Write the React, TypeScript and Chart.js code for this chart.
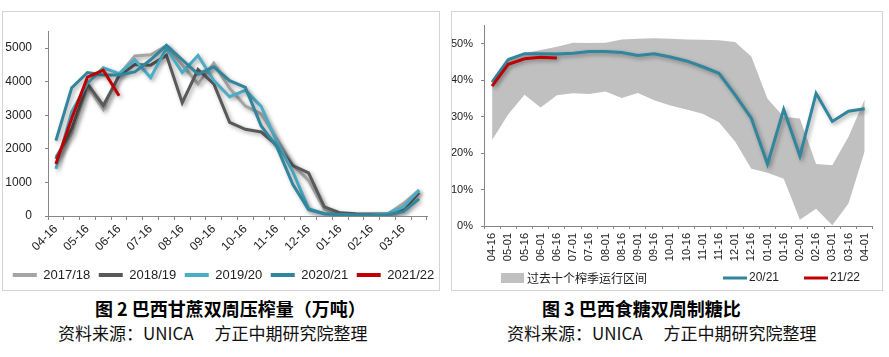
import React, { useEffect, useRef } from 'react';
import { Chart, registerables } from 'chart.js';

Chart.register(...registerables);

// ---------- data ----------
const categories = ['04-16', '05-01', '05-16', '06-01', '06-16', '07-01', '07-16', '08-01', '08-16', '09-01', '09-16', '10-01', '10-16', '11-01', '11-16', '12-01', '12-16', '01-01', '01-16', '02-01', '02-16', '03-01', '03-16', '04-01'];

// 巴西甘蔗双周压榨量（万吨）
const seasonLabels = ['2017/18', '2018/19', '2019/20', '2020/21', '2021/22'];
const cane1718 = [1760, 2450, 3850, 3180, 4200, 4760, 4800, 5070, 4500, 3930, 4550, 3800, 3270, 3040, 2290, 1520, 1060, 200, 50, 30, 30, 50, 370, 770];
const cane1819 = [1700, 2600, 3930, 3290, 4170, 4510, 4490, 4780, 3370, 4360, 3930, 2790, 2580, 2500, 2100, 1500, 1280, 270, 95, 70, 60, 70, 170, 700];
const cane1920 = [1400, 3100, 3950, 4410, 4240, 4650, 4120, 4990, 4270, 4780, 4030, 3550, 3740, 3260, 2200, 1330, 220, 70, 30, 20, 30, 60, 270, 770];
const cane2021 = [2245, 3815, 4270, 4200, 4200, 4290, 4650, 5080, 4650, 4220, 4440, 4030, 3830, 2680, 2050, 945, 190, 70, 50, 30, 30, 40, 130, 510];
const cane2122 = [1550, 2900, 4130, 4340, 3580, null, null, null, null, null, null, null, null, null, null, null, null, null, null, null, null, null, null, null];
const caneYTicks = [0, 1000, 2000, 3000, 4000, 5000];

// 巴西食糖双周制糖比（%）
const ratioLabels = ['过去十个榨季运行区间', '20/21', '21/22'];
const bandUpper = [40.0, 45.9, 47.4, 48.3, 49.2, 50.3, 50.2, 50.3, 51.2, 51.4, 51.5, 51.4, 51.2, 51.1, 51.0, 50.5, 46.5, 34.9, 30.0, 29.5, 17.0, 16.7, 24.5, 34.7];
const bandLower = [23.6, 30.7, 36.0, 32.5, 35.9, 36.4, 36.2, 36.9, 35.1, 36.5, 34.5, 33.1, 32.0, 30.8, 28.5, 23.2, 15.7, 14.6, 13.0, 1.7, 4.7, 0.2, 6.2, 20.5];
const ratio2021 = [39.5, 45.7, 47.3, 47.3, 47.2, 47.4, 47.9, 47.9, 47.6, 46.8, 47.3, 46.4, 45.3, 43.7, 41.9, 36.0, 29.6, 17.0, 32.0, 19.2, 36.4, 28.7, 31.5, 32.2];
const ratio2122 = [38.4, 44.4, 45.9, 46.3, 46.1, null, null, null, null, null, null, null, null, null, null, null, null, null, null, null, null, null, null, null];
const ratioYTicks = [0, 10, 20, 30, 40, 50];

// ---------- styles ----------
const AXIS = '#868686';
const TXT = '#222';
const LATIN = 'Liberation Sans';
const CJK = '"Noto Sans CJK SC"';
const BAND = '#c0c0c0';
const TEAL = '#31859c';
const RED = '#c00000';

const shadowPlugin = {
  id: 'lineShadow',
  beforeDatasetDraw(chart: any, args: any) {
    const ds = chart.data.datasets[args.index];
    if (!ds.shadow) return;
    const ctx = chart.ctx;
    ctx.save();
    ctx.shadowColor = 'rgba(0,0,0,0.35)';
    ctx.shadowBlur = 4;
    ctx.shadowOffsetX = 2;
    ctx.shadowOffsetY = 2;
  },
  afterDatasetDraw(chart: any, args: any) {
    const ds = chart.data.datasets[args.index];
    if (!ds.shadow) return;
    chart.ctx.restore();
  },
};

const rightLegendPlugin = {
  id: 'rightLegend',
  afterDraw(chart: any) {
    const ctx = chart.ctx;
    const cy = 267;
    ctx.save();
    ctx.textBaseline = 'middle';
    ctx.textAlign = 'left';
    // band
    ctx.fillStyle = BAND;
    ctx.fillRect(49, cy - 5, 23, 10);
    ctx.fillStyle = TXT;
    ctx.font = `12px ${CJK}`;
    ctx.fillText(ratioLabels[0], 75, cy);
    // 20/21
    ctx.fillStyle = TEAL;
    ctx.fillRect(271, cy - 1.5, 24, 3);
    ctx.fillStyle = TXT;
    ctx.font = `12px ${LATIN}`;
    ctx.fillText(ratioLabels[1], 297, cy);
    // 21/22
    ctx.fillStyle = RED;
    ctx.fillRect(352, cy - 1.5, 24, 3);
    ctx.fillStyle = TXT;
    ctx.fillText(ratioLabels[2], 378, cy);
    ctx.restore();
  },
};

export default function App() {
  const leftRef = useRef<HTMLCanvasElement | null>(null);
  const rightRef = useRef<HTMLCanvasElement | null>(null);

  useEffect(() => {
    const leftColors = ['#a5a5a5', '#595959', '#4bacc6', TEAL, RED];
    const leftData = [cane1718, cane1819, cane1920, cane2021, cane2122];
    const left = new Chart(leftRef.current as HTMLCanvasElement, {
      type: 'line',
      data: {
        labels: categories,
        datasets: leftData.map((d, i) => ({
          label: seasonLabels[i],
          data: d,
          borderColor: leftColors[i],
          backgroundColor: leftColors[i],
          borderWidth: 3,
          pointRadius: 0,
          tension: 0,
          fill: false,
          order: 5 - i,
          yAxisID: 'y',
          shadow: true,
        })) as any,
      },
      options: {
        animation: false,
        responsive: false,
        devicePixelRatio: 1,
        layout: { padding: { left: 0, right: 0, top: 14, bottom: 9.5 } },
        plugins: {
          legend: {
            position: 'bottom',
            labels: {
              boxWidth: 24,
              boxHeight: 4,
              padding: 8.5,
              color: TXT,
              font: { family: LATIN, size: 13 },
              generateLabels: (chart: any) =>
                chart.data.datasets.map((ds: any, i: number) => ({
                  text: ds.label,
                  fillStyle: ds.borderColor,
                  strokeStyle: ds.borderColor,
                  lineWidth: 0,
                  hidden: false,
                  datasetIndex: i,
                  fontColor: TXT,
                })),
            },
          },
          tooltip: { enabled: false },
        },
        scales: {
          x: {
            type: 'category',
            offset: true,
            grid: { display: true, drawOnChartArea: false, drawTicks: true, tickLength: 4, offset: true, color: AXIS },
            border: { display: true, color: AXIS },
            ticks: {
              autoSkip: false,
              maxRotation: 45,
              minRotation: 45,
              padding: 2,
              color: TXT,
              font: { family: LATIN, size: 12 },
              callback: (_v: any, i: number) => (i % 2 === 0 ? categories[i] : ''),
            },
            afterFit: (s: any) => { s.height = 44; },
          },
          y: {
            type: 'linear',
            min: 0,
            max: 5500,
            grid: { display: true, drawOnChartArea: false, drawTicks: true, tickLength: 3, color: AXIS },
            border: { display: true, color: AXIS },
            ticks: { padding: 13, color: TXT, font: { family: LATIN, size: 12 }, callback: (v: any) => String(v) },
            afterBuildTicks: (s: any) => { s.ticks = caneYTicks.map((v) => ({ value: v })); },
            afterFit: (s: any) => { s.width = 48; },
          },
          yR: {
            type: 'linear',
            position: 'right',
            display: true,
            grid: { display: false },
            border: { display: false },
            ticks: { display: false },
            afterFit: (s: any) => { s.width = 20; },
          },
        },
      } as any,
      plugins: [shadowPlugin],
    });

    const right = new Chart(rightRef.current as HTMLCanvasElement, {
      type: 'line',
      data: {
        labels: categories,
        datasets: [
          { label: ratioLabels[1], data: ratio2021, borderColor: TEAL, backgroundColor: TEAL, borderWidth: 3, pointRadius: 0, tension: 0, fill: false, order: 2, shadow: true },
          { label: ratioLabels[2], data: ratio2122, borderColor: RED, backgroundColor: RED, borderWidth: 3, pointRadius: 0, tension: 0, fill: false, order: 1, shadow: true },
          { label: 'lower', data: bandLower, borderWidth: 0, borderColor: 'rgba(0,0,0,0)', pointRadius: 0, tension: 0, fill: false, order: 4 },
          { label: ratioLabels[0], data: bandUpper, borderWidth: 0, borderColor: 'rgba(0,0,0,0)', backgroundColor: BAND, pointRadius: 0, tension: 0, fill: '-1', order: 3 },
        ] as any,
      },
      options: {
        animation: false,
        responsive: false,
        devicePixelRatio: 1,
        layout: { padding: { left: 0, right: 5, top: 7, bottom: 0 } },
        plugins: {
          legend: { display: false },
          tooltip: { enabled: false },
        },
        scales: {
          x: {
            type: 'category',
            offset: true,
            grid: { display: true, drawOnChartArea: false, drawTicks: true, tickLength: 3, offset: true, color: AXIS },
            border: { display: true, color: AXIS },
            ticks: {
              autoSkip: false,
              maxRotation: 90,
              minRotation: 90,
              padding: 4,
              color: TXT,
              font: { family: LATIN, size: 11 },
            },
            afterFit: (s: any) => { s.height = 75; },
          },
          y: {
            type: 'linear',
            min: 0,
            max: 55,
            grid: { display: true, drawOnChartArea: false, drawTicks: true, tickLength: 3, color: AXIS },
            border: { display: true, color: AXIS },
            ticks: { padding: 8, color: TXT, font: { family: LATIN, size: 11 }, callback: (v: any) => `${v}%` },
            afterBuildTicks: (s: any) => { s.ticks = ratioYTicks.map((v) => ({ value: v })); },
            afterFit: (s: any) => { s.width = 32; },
          },
        },
      } as any,
      plugins: [shadowPlugin, rightLegendPlugin],
    });

    return () => {
      left.destroy();
      right.destroy();
    };
  }, []);

  const box: React.CSSProperties = { position: 'absolute', boxSizing: 'border-box', border: '1px solid #d4d4d4', height: 280 };
  const title: React.CSSProperties = { position: 'absolute', top: 299, fontFamily: CJK, fontWeight: 700, fontSize: 18, lineHeight: '18px', color: '#000', whiteSpace: 'pre' };
  const source: React.CSSProperties = { position: 'absolute', top: 324, fontFamily: CJK, fontWeight: 400, fontSize: 17, lineHeight: '17px', color: '#111', whiteSpace: 'pre' };

  return (
    <div style={{ position: 'absolute', left: 0, top: 0, width: 889, height: 357, background: '#fff', overflow: 'hidden' }}>
      <div style={{ ...box, left: 2, top: 11, width: 438 }} />
      <div style={{ ...box, left: 451, top: 11, width: 432 }} />
      <div style={{ ...title, left: 95 }}>图 2 巴西甘蔗双周压榨量（万吨）</div>
      <div style={{ ...source, left: 58 }}>资料来源：UNICA　 方正中期研究院整理</div>
      <div style={{ ...title, left: 542 }}>图 3 巴西食糖双周制糖比</div>
      <div style={{ ...source, left: 507 }}>资料来源：UNICA　 方正中期研究院整理</div>
      <canvas ref={leftRef} width={447} height={290} style={{ position: 'absolute', left: 0, top: 11, width: 447, height: 290 }} />
      <canvas ref={rightRef} width={430} height={290} style={{ position: 'absolute', left: 452, top: 11, width: 430, height: 290 }} />
    </div>
  );
}
